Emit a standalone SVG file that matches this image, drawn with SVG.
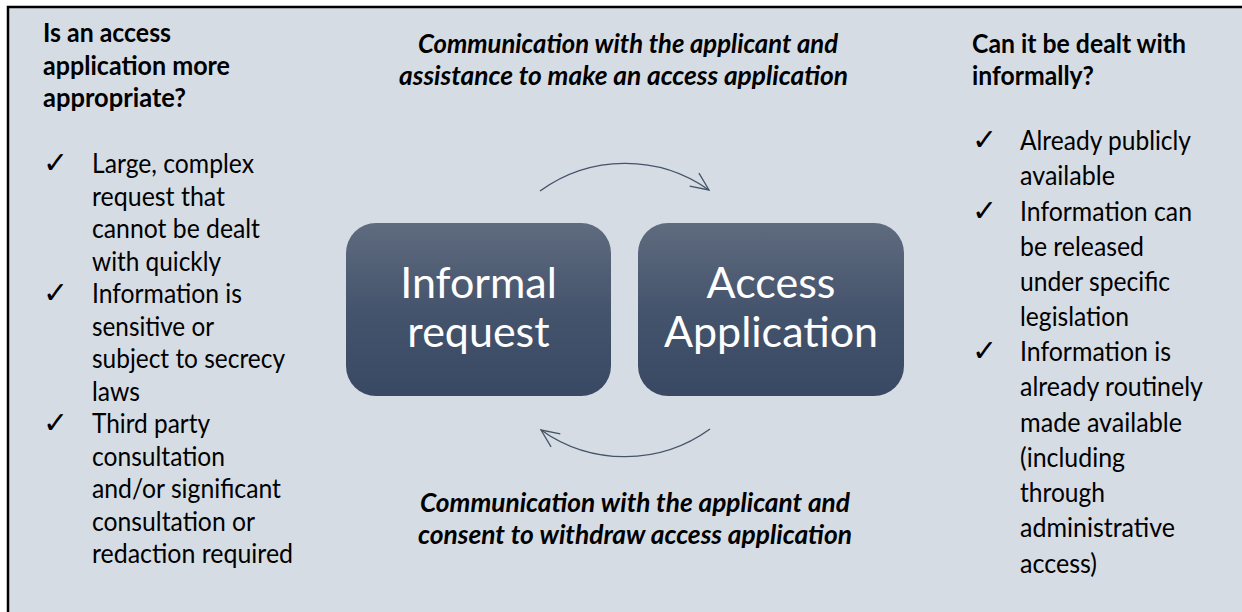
<svg xmlns="http://www.w3.org/2000/svg" width="1242" height="612" viewBox="0 0 1242 612">
  <defs>
    <linearGradient id="boxGrad" x1="0" y1="0" x2="0" y2="1">
      <stop offset="0" stop-color="#5F6B7E"/>
      <stop offset="0.5" stop-color="#45546D"/>
      <stop offset="1" stop-color="#3A4963"/>
    </linearGradient>
    <marker id="openArrow" viewBox="0 0 22 22" refX="20" refY="11" markerWidth="22" markerHeight="22" markerUnits="userSpaceOnUse" orient="auto">
      <path d="M2,3 L20,11 L2,19" fill="none" stroke="#44546A" stroke-width="1.3"/>
    </marker>
    <style>
      .body { font-family: Lato, "Liberation Sans", sans-serif; font-size: 26px; fill: #000; }
      .head { font-family: Lato, "Liberation Sans", sans-serif; font-size: 26px; font-weight: bold; fill: #000; }
      .ital { font-family: Lato, "Liberation Sans", sans-serif; font-size: 26px; font-weight: bold; font-style: italic; fill: #000; }
      .check { font-family: "DejaVu Sans", sans-serif; font-size: 30px; fill: #000; }
      .boxtxt { font-family: Lato, "Liberation Sans", sans-serif; font-size: 43px; fill: #FFFFFF; text-anchor: middle; }
      .box { fill: url(#boxGrad); }
      .conn { fill: none; stroke: #44546A; stroke-width: 1.4; }
    </style>
  </defs>

  <rect x="0" y="0" width="1242" height="612" fill="#FFFFFF"/>
  <rect x="8" y="7" width="1240" height="612" fill="#D6DCE4" stroke="#000" stroke-width="2.5"/>

  <g id="left-column">
    <text class="head" x="43" y="42" textLength="128" lengthAdjust="spacingAndGlyphs">Is an access</text>
    <text class="head" x="43" y="74.5" textLength="187" lengthAdjust="spacingAndGlyphs">application more</text>
    <text class="head" x="43" y="107" textLength="143" lengthAdjust="spacingAndGlyphs">appropriate?</text>
    <text class="check" x="43" y="173">✓</text>
    <text class="check" x="43" y="303">✓</text>
    <text class="check" x="43" y="433">✓</text>
    <text class="body" x="92" y="173" textLength="162" lengthAdjust="spacingAndGlyphs">Large, complex</text>
    <text class="body" x="92" y="205.5" textLength="133" lengthAdjust="spacingAndGlyphs">request that</text>
    <text class="body" x="92" y="238" textLength="168" lengthAdjust="spacingAndGlyphs">cannot be dealt</text>
    <text class="body" x="92" y="270.5" textLength="129" lengthAdjust="spacingAndGlyphs">with quickly</text>
    <text class="body" x="92" y="303" textLength="150" lengthAdjust="spacingAndGlyphs">Information is</text>
    <text class="body" x="92" y="335.5" textLength="122" lengthAdjust="spacingAndGlyphs">sensitive or</text>
    <text class="body" x="92" y="368" textLength="193" lengthAdjust="spacingAndGlyphs">subject to secrecy</text>
    <text class="body" x="92" y="400.5" textLength="48" lengthAdjust="spacingAndGlyphs">laws</text>
    <text class="body" x="92" y="433" textLength="118" lengthAdjust="spacingAndGlyphs">Third party</text>
    <text class="body" x="92" y="465.5" textLength="133" lengthAdjust="spacingAndGlyphs">consultation</text>
    <text class="body" x="92" y="498" textLength="189" lengthAdjust="spacingAndGlyphs">and/or significant</text>
    <text class="body" x="92" y="530.5" textLength="163" lengthAdjust="spacingAndGlyphs">consultation or</text>
    <text class="body" x="92" y="563" textLength="201" lengthAdjust="spacingAndGlyphs">redaction required</text>
  </g>

  <g id="top-label">
    <text class="ital" x="418" y="53" textLength="420" lengthAdjust="spacingAndGlyphs">Communication with the applicant and</text>
    <text class="ital" x="399" y="84.5" textLength="449" lengthAdjust="spacingAndGlyphs">assistance to make an access application</text>
  </g>

  <g id="bottom-label">
    <text class="ital" x="420" y="512" textLength="430" lengthAdjust="spacingAndGlyphs">Communication with the applicant and</text>
    <text class="ital" x="418" y="544" textLength="434" lengthAdjust="spacingAndGlyphs">consent to withdraw access application</text>
  </g>

  <g id="node-informal">
    <rect class="box" x="346" y="223" width="265" height="173" rx="30" ry="30"/>
    <text class="boxtxt" x="478.5" y="298">Informal</text>
    <text class="boxtxt" x="478.5" y="347">request</text>
  </g>

  <g id="node-access">
    <rect class="box" x="638" y="223" width="266" height="173" rx="30" ry="30"/>
    <text class="boxtxt" x="771" y="298">Access</text>
    <text class="boxtxt" x="771" y="347">Application</text>
  </g>

  <g id="connectors">
    <path class="conn" d="M540,191 A145,145 0 0 1 709,190" marker-end="url(#openArrow)"/>
    <path class="conn" d="M710,429 A145,145 0 0 1 541,430" marker-end="url(#openArrow)"/>
  </g>

  <g id="right-column">
    <text class="head" x="972" y="52.5" textLength="214" lengthAdjust="spacingAndGlyphs">Can it be dealt with</text>
    <text class="head" x="972" y="84.5" textLength="122" lengthAdjust="spacingAndGlyphs">informally?</text>
    <text class="check" x="972" y="150">✓</text>
    <text class="check" x="972" y="220.5">✓</text>
    <text class="check" x="972" y="361">✓</text>
    <text class="body" x="1020" y="150" textLength="171" lengthAdjust="spacingAndGlyphs">Already publicly</text>
    <text class="body" x="1020" y="185" textLength="95" lengthAdjust="spacingAndGlyphs">available</text>
    <text class="body" x="1020" y="220.5" textLength="172" lengthAdjust="spacingAndGlyphs">Information can</text>
    <text class="body" x="1020" y="255.5" textLength="124" lengthAdjust="spacingAndGlyphs">be released</text>
    <text class="body" x="1020" y="290.5" textLength="150" lengthAdjust="spacingAndGlyphs">under specific</text>
    <text class="body" x="1020" y="325.5" textLength="109" lengthAdjust="spacingAndGlyphs">legislation</text>
    <text class="body" x="1020" y="361" textLength="151" lengthAdjust="spacingAndGlyphs">Information is</text>
    <text class="body" x="1020" y="396" textLength="183" lengthAdjust="spacingAndGlyphs">already routinely</text>
    <text class="body" x="1020" y="431.5" textLength="162" lengthAdjust="spacingAndGlyphs">made available</text>
    <text class="body" x="1020" y="467" textLength="105" lengthAdjust="spacingAndGlyphs">(including</text>
    <text class="body" x="1020" y="502" textLength="85" lengthAdjust="spacingAndGlyphs">through</text>
    <text class="body" x="1020" y="537" textLength="155" lengthAdjust="spacingAndGlyphs">administrative</text>
    <text class="body" x="1020" y="572.5" textLength="77" lengthAdjust="spacingAndGlyphs">access)</text>
  </g>
</svg>
